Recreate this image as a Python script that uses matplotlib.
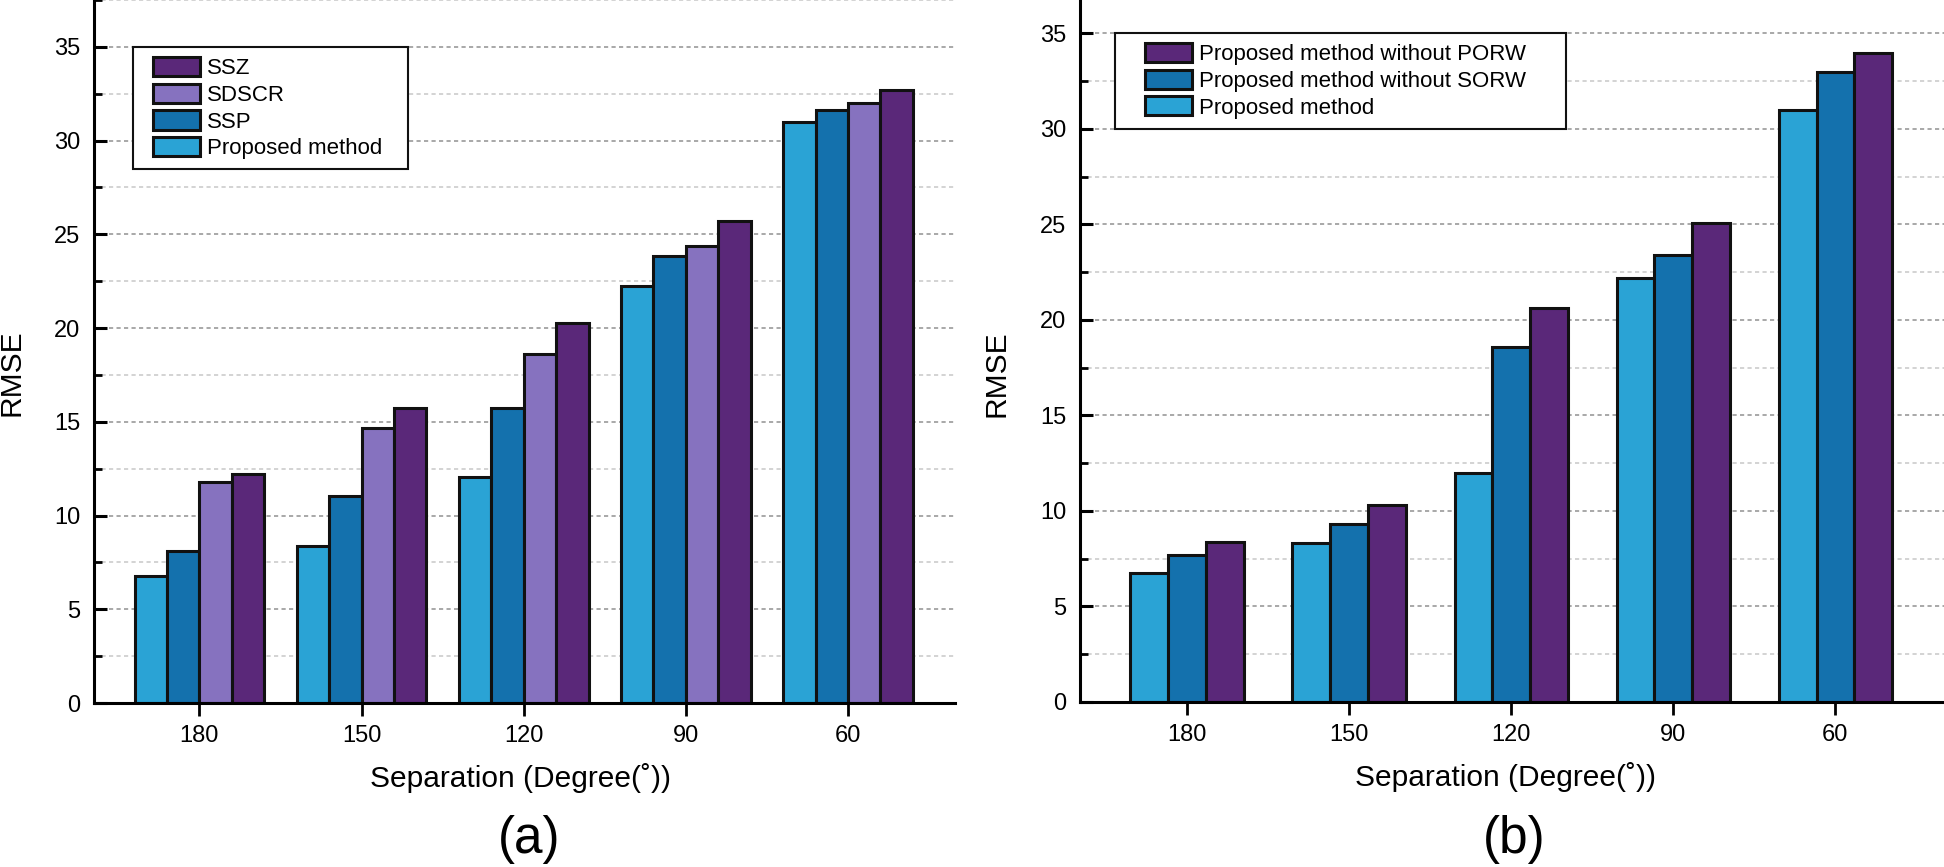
import numpy as np
import matplotlib.pyplot as plt
from matplotlib.ticker import MultipleLocator
from matplotlib.legend_handler import HandlerPatch
from matplotlib.patches import Rectangle

# shared x categories
separation = ["180", "150", "120", "90", "60"]

# panel (a)
proposed_a = [6.75, 8.35, 12.05, 22.25, 31.0]
ssp_a = [8.1, 11.05, 15.75, 23.85, 31.65]
sdscr_a = [11.8, 14.65, 18.6, 24.4, 31.98]
ssz_a = [12.2, 15.75, 20.25, 25.7, 32.7]

# panel (b)
proposed_b = [6.75, 8.3, 12.0, 22.2, 31.0]
no_sorw_b = [7.7, 9.3, 18.6, 23.4, 33.0]
no_porw_b = [8.35, 10.3, 20.6, 25.1, 33.95]

C_LIGHT = "#2aa3d5"
C_BLUE = "#1471ad"
C_LAV = "#8672bf"
C_PURP = "#5a2879"

plt.rcParams["font.family"] = ["Liberation Sans", "DejaVu Sans"]


def box_handler(offset_pt):
    # legend swatch shifted right, leaves extra space on the left
    def patch_func(legend, orig_handle, xdescent, ydescent, width, height,
                   fontsize):
        return Rectangle((offset_pt - xdescent, -ydescent),
                         width - offset_pt, height)
    return HandlerPatch(patch_func=patch_func)


def style_axes(ax, ytop):
    for side in ("top", "right"):
        ax.spines[side].set_visible(False)
    for side in ("left", "bottom"):
        ax.spines[side].set_linewidth(2.2)
    ax.set_ylim(0, ytop)
    ax.yaxis.set_major_locator(MultipleLocator(5))
    ax.yaxis.set_minor_locator(MultipleLocator(2.5))
    ax.tick_params(axis="y", which="major", direction="in", length=9.5,
                   width=2.2, labelsize=17, pad=10)
    ax.tick_params(axis="y", which="minor", direction="in", length=5.5,
                   width=2.0)
    ax.tick_params(axis="x", which="major", direction="out", length=9.5,
                   width=2.0, labelsize=17, pad=6)
    ax.grid(True, axis="y", which="major", linestyle=(0, (2.5, 2)),
            color="#999999", linewidth=1.2)
    ax.grid(True, axis="y", which="minor", linestyle=(0, (2.5, 2)),
            color="#cccccc", linewidth=1.2)
    ax.set_axisbelow(True)
    ax.set_ylabel("RMSE", fontsize=21.5)
    ax.set_xlabel("Separation (Degree(˚))", fontsize=21.5, labelpad=12)


def add_legend(ax, handles, labels, x0, width, top, offset_pt):
    leg = ax.legend(handles, labels, loc="upper left",
                    bbox_to_anchor=(x0, top - 0.4, width, 0.4),
                    mode="expand", borderaxespad=0, fontsize=16,
                    fancybox=False, edgecolor="#111111", framealpha=1,
                    handlelength=(offset_pt + 33.6) / 16, handleheight=0.95,
                    labelspacing=0.2, handletextpad=0.35, borderpad=0.45,
                    handler_map={Rectangle: box_handler(offset_pt)})
    leg.get_frame().set_linewidth(1.5)
    return leg


fig = plt.figure(figsize=(19.44, 8.67), dpi=100)
ax1 = fig.add_axes([94 / 1944, 164 / 867, 861 / 1944, 703 / 867])
ax2 = fig.add_axes([1080 / 1944, 165 / 867, 864 / 1944, 702 / 867])

x = np.arange(len(separation))

# (a)
w = 0.2
series_a = [
    (proposed_a, C_LIGHT, "Proposed method"),
    (ssp_a, C_BLUE, "SSP"),
    (sdscr_a, C_LAV, "SDSCR"),
    (ssz_a, C_PURP, "SSZ"),
]
handles = []
for i, (vals, col, lab) in enumerate(series_a):
    bars = ax1.bar(x + (i - 1.5) * w, vals, w, color=col,
                   edgecolor="#111111", linewidth=2.2, label=lab)
    handles.append(bars.patches[0])
ax1.set_xticks(x, separation)
ax1.set_xlim(-0.65, 4.66)
style_axes(ax1, 37.5)
ax1.yaxis.set_label_coords(-0.079, 0.47)
ax1.xaxis.label.set_x(0.495)
add_legend(ax1, handles[::-1], [s[2] for s in series_a][::-1],
           0.0453, 0.3194, 0.9331, 7.2)

# (b)
w = 0.233
series_b = [
    (proposed_b, C_LIGHT, "Proposed method"),
    (no_sorw_b, C_BLUE, "Proposed method without SORW"),
    (no_porw_b, C_PURP, "Proposed method without PORW"),
]
handles = []
for i, (vals, col, lab) in enumerate(series_b):
    bars = ax2.bar(x + (i - 1) * w, vals, w, color=col,
                   edgecolor="#111111", linewidth=2.2, label=lab)
    handles.append(bars.patches[0])
ax2.set_xticks(x, separation)
ax2.set_xlim(-0.66, 4.67)
style_axes(ax2, 36.75)
ax2.yaxis.set_label_coords(-0.081, 0.468)
ax2.xaxis.label.set_x(0.493)
add_legend(ax2, handles[::-1], [s[2] for s in series_b][::-1],
           0.0405, 0.522, 0.953, 14.4)

fig.text(529 / 1944, 1 - 853 / 867, "(a)", fontsize=37, ha="center",
         va="baseline")
fig.text(1514 / 1944, 1 - 853 / 867, "(b)", fontsize=37, ha="center",
         va="baseline")

fig.savefig("out.png", dpi=100)
